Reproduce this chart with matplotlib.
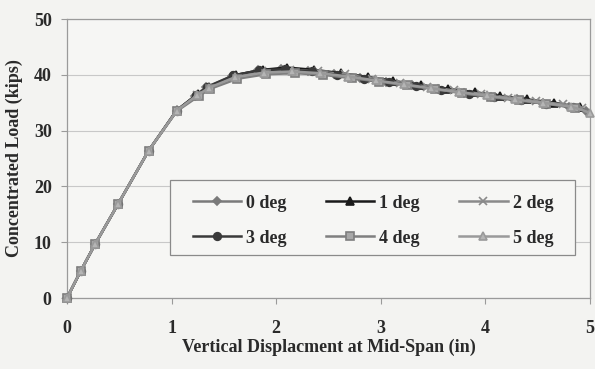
import numpy as np
import matplotlib.pyplot as plt
from matplotlib.lines import Line2D
from matplotlib.patches import Rectangle

# Load-deflection results for each skew angle
labels = ["0 deg", "1 deg", "2 deg", "3 deg", "4 deg", "5 deg"]

disp_0 = [0, 0.13, 0.27, 0.49, 0.78, 1.05, 1.22, 1.33, 1.58, 1.83, 2.05, 2.30, 2.55, 2.80, 3.05, 3.30, 3.55, 3.80, 4.05, 4.30, 4.55, 4.80, 4.96]
load_0 = [0, 4.8, 9.7, 16.9, 26.4, 33.6, 36.2, 37.8, 39.8, 40.8, 41.1, 40.7, 40.2, 39.5, 38.8, 38.1, 37.4, 36.8, 36.1, 35.6, 35.0, 34.3, 33.5]

disp_1 = [0, 0.13, 0.27, 0.49, 0.78, 1.05, 1.25, 1.36, 1.62, 1.87, 2.10, 2.36, 2.62, 2.88, 3.12, 3.38, 3.64, 3.90, 4.14, 4.40, 4.66, 4.90]
load_1 = [0, 4.8, 9.7, 16.9, 26.4, 33.7, 36.5, 37.9, 40.0, 40.9, 41.3, 40.9, 40.3, 39.6, 38.9, 38.2, 37.5, 36.9, 36.2, 35.6, 35.0, 34.2]

disp_2 = [0, 0.13, 0.27, 0.49, 0.78, 1.05, 1.24, 1.35, 1.60, 1.86, 2.13, 2.40, 2.66, 2.92, 3.18, 3.44, 3.70, 3.96, 4.22, 4.48, 4.74, 4.92]
load_2 = [0, 4.8, 9.7, 16.9, 26.4, 33.6, 36.3, 37.7, 39.7, 40.6, 40.9, 40.6, 40.1, 39.3, 38.6, 37.9, 37.2, 36.6, 35.9, 35.3, 34.7, 34.1]

disp_3 = [0, 0.13, 0.27, 0.49, 0.78, 1.05, 1.23, 1.34, 1.59, 1.84, 2.08, 2.34, 2.58, 2.84, 3.08, 3.34, 3.58, 3.84, 4.08, 4.34, 4.58, 4.84]
load_3 = [0, 4.8, 9.7, 16.9, 26.4, 33.6, 36.3, 37.8, 39.9, 40.8, 41.0, 40.6, 40.0, 39.3, 38.7, 38.0, 37.3, 36.6, 36.0, 35.4, 34.8, 34.2]

disp_4 = [0, 0.13, 0.27, 0.49, 0.78, 1.05, 1.26, 1.37, 1.63, 1.90, 2.18, 2.45, 2.72, 2.98, 3.25, 3.52, 3.78, 4.05, 4.32, 4.58, 4.86]
load_4 = [0, 4.8, 9.7, 16.9, 26.4, 33.5, 36.2, 37.5, 39.3, 40.1, 40.3, 40.0, 39.4, 38.8, 38.1, 37.4, 36.7, 36.0, 35.4, 34.8, 34.1]

disp_5 = [0, 0.13, 0.27, 0.49, 0.78, 1.05, 1.24, 1.36, 1.61, 1.88, 2.15, 2.42, 2.69, 2.95, 3.22, 3.48, 3.75, 4.02, 4.28, 4.55, 4.82, 5.0]
load_5 = [0, 4.8, 9.7, 16.9, 26.4, 33.6, 36.3, 37.7, 39.6, 40.4, 40.6, 40.3, 39.7, 39.0, 38.3, 37.6, 36.9, 36.3, 35.6, 35.0, 34.3, 33.2]

series = [(disp_0, load_0), (disp_1, load_1), (disp_2, load_2),
          (disp_3, load_3), (disp_4, load_4), (disp_5, load_5)]

# line colour, marker, marker size, marker face colour
styles = [
    ("#7a7a7a", "D", 4.0, "#7a7a7a"),
    ("#1a1a1a", "^", 5.5, "#1a1a1a"),
    ("#8a8a8a", "x", 5.5, "#8a8a8a"),
    ("#3a3a3a", "o", 5.5, "#3a3a3a"),
    ("#7f7f7f", "s", 5.5, "#a8a8a8"),
    ("#9a9a9a", "^", 5.5, "#b5b5b5"),
]

bg = "#f3f3f1"
txt = "#2a2a2a"
serif = ["Liberation Serif", "DejaVu Serif"]
fs = 13

fig = plt.figure(figsize=(5.95, 3.69), dpi=100, facecolor=bg)
ax = fig.add_axes([0.1126, 0.1924, 0.879, 0.756], facecolor="#f6f6f4")

handles = []
for (x, y), lab, (c, m, ms, mf) in zip(series, labels, styles):
    ax.plot(x, y, color=c, lw=1.8, marker=m, ms=ms, mfc=mf, mec=c, mew=1.2, clip_on=False, zorder=3)
    handles.append(Line2D([], [], color=c, lw=1.8, marker=m, ms=ms, mfc=mf, mec=c, mew=1.2, label=lab))

ax.set_xlim(0, 5)
ax.set_ylim(0, 50)
ax.set_xticks(np.arange(0, 6, 1))
ax.set_yticks(np.arange(0, 60, 10))
ax.yaxis.grid(True, color="#c8c8c8", lw=0.8)
ax.set_axisbelow(True)

for s in ax.spines.values():
    s.set_color("#9a9a9a")
    s.set_linewidth(0.9)

ax.tick_params(axis="both", colors="#9a9a9a", length=4, width=0.8, labelcolor=txt)
for t in ax.get_xticklabels() + ax.get_yticklabels():
    t.set_fontfamily(serif)
    t.set_fontweight("bold")
    t.set_fontsize(fs)
ax.tick_params(axis="x", pad=12)
ax.tick_params(axis="y", pad=7)

ax.set_xlabel("Vertical Displacment at Mid-Span (in)", family=serif, weight="bold",
              fontsize=fs, color=txt, labelpad=1)
ax.set_ylabel("Concentrated Load (kips)", family=serif, weight="bold",
              fontsize=fs, color=txt, labelpad=8)

# legend frame drawn separately, legend entries placed inside it
ax.add_patch(Rectangle((0.197, 0.154), 0.774, 0.269, transform=ax.transAxes,
                       facecolor="#f6f6f4", edgecolor="#8a8a8a", lw=0.9, zorder=4))

# legend filled column-wise, so reorder to get rows 0-1-2 / 3-4-5
order = [0, 3, 1, 4, 2, 5]
leg = ax.legend([handles[i] for i in order], [labels[i] for i in order],
                ncol=3, loc="upper left", bbox_to_anchor=(0.24, 0.371),
                frameon=False, handlelength=2.7, handletextpad=0.28,
                columnspacing=2.15, labelspacing=1.0, borderpad=0, borderaxespad=0,
                prop={"family": serif, "weight": "bold", "size": fs})
leg.set_zorder(5)
for t in leg.get_texts():
    t.set_color(txt)

fig.savefig("out.png", dpi=100, facecolor=bg)
